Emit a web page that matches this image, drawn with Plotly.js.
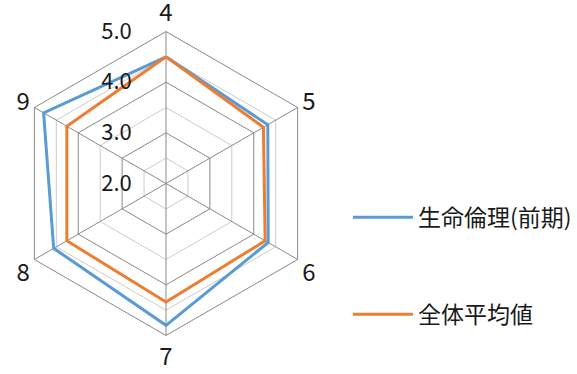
<!DOCTYPE html>
<html>
<head>
<meta charset="utf-8">
<script src="https://cdn.plot.ly/plotly-3.0.1.min.js"></script>
<style>html,body{margin:0;padding:0;background:#fff;}#chart{width:577px;height:374px;}</style>
</head>
<body>
<div id="chart"></div>
<script>
const categories = ['4', '5', '6', '7', '8', '9'];
const seriesNames = ['生命倫理(前期)', '全体平均値'];
const seriesA = [4.5, 4.32, 4.33, 4.8, 4.56, 4.79];
const seriesB = [4.5, 4.22, 4.26, 4.34, 4.26, 4.26];
const radialTicks = [2, 3, 4, 5];
const radialMinorTicks = [2.5, 3.5, 4.5];
const colors = ['#5B9BD5', '#ED7D31'];

const FONT = '"Noto Sans CJK JP", "Noto Sans", sans-serif';
const close = a => a.concat([a[0]]);

const traces = [
  {type: 'scatterpolar', subplot: 'polar', r: [], theta: [], showlegend: false, hoverinfo: 'skip'},
  {type: 'scatterpolar', subplot: 'polar2', r: close(seriesA), theta: close(categories), mode: 'lines',
   name: seriesNames[0], line: {color: colors[0], width: 3}, legendgroup: 'a'},
  {type: 'scatterpolar', subplot: 'polar2', r: close(seriesB), theta: close(categories), mode: 'lines',
   name: seriesNames[1], line: {color: colors[1], width: 3}, legendgroup: 'b'}
];

const dom = {x: [0.0243, 0.5511], y: [0.1029, 0.9158]};
const layout = {
  width: 577, height: 374,
  margin: {l: 0, r: 0, t: 0, b: 0},
  paper_bgcolor: '#fff',
  font: {family: FONT, color: '#1a1a1a'},
  showlegend: true,
  legend: {x: 0.603, y: 0.289, xanchor: 'left', yanchor: 'middle', font: {size: 23, family: FONT, color: '#1a1a1a'},
           itemwidth: 60, traceorder: 'grouped', tracegroupgap: 64, bgcolor: 'rgba(0,0,0,0)'},
  polar: {
    domain: dom, gridshape: 'linear', bgcolor: '#fff',
    angularaxis: {type: 'category', categoryarray: categories, rotation: 90, direction: 'clockwise',
                  showgrid: false, showline: false, showticklabels: false, ticks: ''},
    radialaxis: {range: [2, 5], tickvals: radialMinorTicks, showticklabels: false, ticks: '',
                 showline: false, gridcolor: '#cccccc', gridwidth: 1}
  },
  polar2: {
    domain: dom, gridshape: 'linear', bgcolor: 'rgba(0,0,0,0)',
    angularaxis: {type: 'category', categoryarray: categories, rotation: 90, direction: 'clockwise',
                  showgrid: true, gridcolor: '#898989', linecolor: '#898989', linewidth: 1,
                  ticks: '',
                  tickfont: {size: 24, family: FONT, color: '#1a1a1a'}},
    radialaxis: {range: [2, 5], tickvals: radialTicks, tickformat: '.1f', angle: 90, side: 'counterclockwise',
                 tickangle: 90, ticks: 'outside', ticklen: 26, tickcolor: 'rgba(0,0,0,0)',
                 showline: false, gridcolor: '#898989', gridwidth: 1,
                 tickfont: {size: 22, family: FONT, color: '#1a1a1a'}}
  }
};

Plotly.newPlot('chart', traces, layout, {staticPlot: true, displayModeBar: false});
</script>
</body>
</html>
